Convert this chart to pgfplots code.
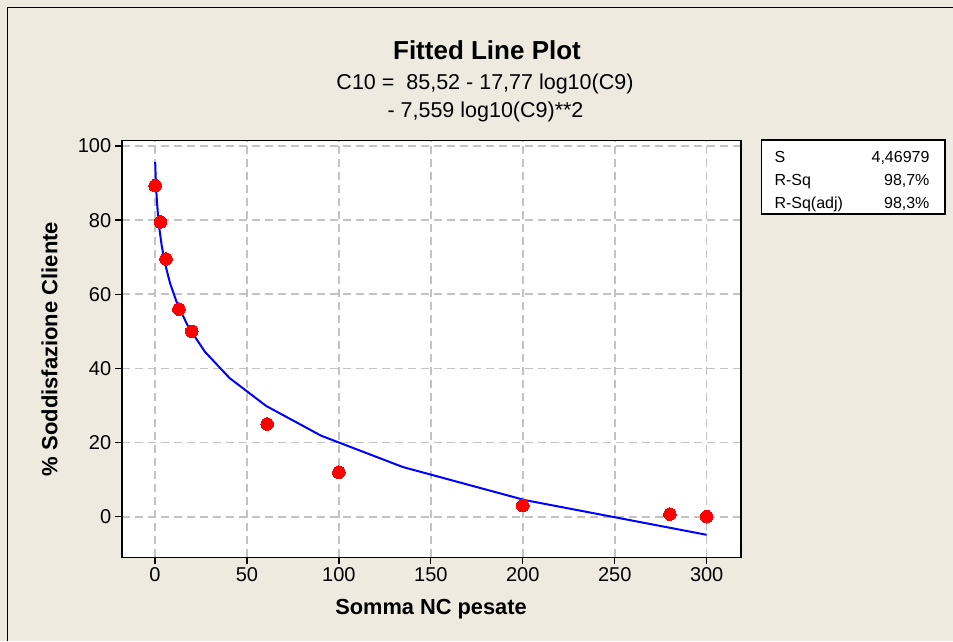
\documentclass[border=0pt]{standalone}
\usepackage{pgfplots}
\pgfplotsset{compat=1.18}
\usepackage{fontspec}
\setmainfont{Liberation Sans}
\definecolor{bg}{RGB}{238,234,224}
\definecolor{gridc}{RGB}{195,195,195}
\pgfplotstableread{
x y
0.1 89.3
3 79.5
6 69.5
13 56
20 50
61 25
100 12
200 3
280 0.7
300 0
}\datapts
\pgfplotstableread{
x y
0.1000 95.731
0.1492 95.041
0.2226 93.895
0.3322 92.292
0.4958 90.231
0.7400 87.714
1.1044 84.739
1.6482 81.308
2.4598 77.419
3.6711 73.074
5.4789 68.273
8.1768 63.013
12.203 57.297
18.212 51.124
27.164 44.494
40.540 37.406
60.503 29.863
90.295 21.862
134.76 13.404
201.10 4.490
300.00 -4.881
}\fitline
\begin{document}
\begin{tikzpicture}[x=1pt,y=1pt]
\useasboundingbox (0,0) rectangle (953,641);
\fill[bg] (0,0) rectangle (953,641);
\draw[black, line width=1.5pt] (7.3,0) -- (7.3,633.7) -- (953,633.7);
\node[anchor=base, font=\bfseries\fontsize{26}{30}\selectfont] at (487,581) {Fitted Line Plot};
\node[anchor=base, font=\fontsize{21.5}{24}\selectfont] at (485,551.7) {C10 =\ \ 85,52 - 17,77 log10(C9)};
\node[anchor=base, font=\fontsize{21.5}{24}\selectfont] at (485.5,523) {- 7,559 log10(C9)**2};
\node[rotate=90, font=\bfseries\fontsize{22}{25}\selectfont] at (49.5,292) {\% Soddisfazione Cliente};
\node[anchor=base, font=\bfseries\fontsize{21.8}{25}\selectfont] at (431,27) {Somma NC pesate};
\begin{axis}[
  at={(121.7pt,83.7pt)}, anchor=south west,
  scale only axis, width=619pt, height=416.6pt,
  xmin=-18.1, xmax=318.5, ymin=-10.95, ymax=101.43,
  xtick={0,50,...,300}, ytick={0,20,...,100},
  tick align=outside, tick pos=left, major tick length=7pt,
  tick style={black, line width=1.3pt},
  axis line style={black, line width=1.6pt},
  grid=major,
  major grid style={gridc, dash pattern=on 8pt off 5pt, line width=1.6pt},
  axis background/.style={fill=white},
  ticklabel style={font=\fontsize{20}{24}\selectfont},
  /pgf/number format/assume math mode=true,
  clip=true,
]
\addplot[blue, line width=2pt, no marks] table[x=x,y=y] {\fitline};
\addplot[red, only marks, mark=*, mark size=6.3pt, mark options={fill=red, draw=red, line width=0pt}] table[x=x,y=y] {\datapts};
\end{axis}
\draw[black, fill=white, line width=1.3pt] (761.7,501) rectangle (945,427);
\begin{scope}[font=\fontsize{16}{18}\selectfont]
\node[anchor=base west] at (771,478) {S};
\node[anchor=base west] at (771,455) {R-Sq};
\node[anchor=base west] at (771,432) {R-Sq(adj)};
\node[anchor=base east] at (933,478) {4,46979};
\node[anchor=base east] at (933,455) {98,7\%};
\node[anchor=base east] at (933,432) {98,3\%};
\end{scope}
\end{tikzpicture}
\end{document}
